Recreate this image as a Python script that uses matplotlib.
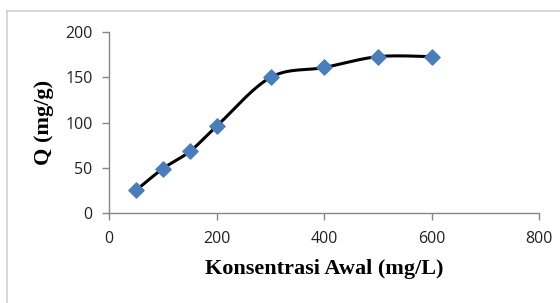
import numpy as np
import matplotlib.pyplot as plt
from matplotlib.lines import Line2D

konsentrasi = [50, 100, 150, 200, 300, 400, 500, 600]
q_values = [25, 49, 68, 96, 150, 161, 173, 173]


def excel_smooth(x, y, n=30):
    # bezier segments like Excel's "smoothed line"
    x = np.asarray(x, float)
    y = np.asarray(y, float)
    px = np.concatenate([[x[0]], x, [x[-1]]])
    py = np.concatenate([[y[0]], y, [y[-1]]])
    xs, ys = [], []
    t = np.linspace(0, 1, n)
    for i in range(1, len(px) - 2):
        p0 = np.array([px[i], py[i]])
        p3 = np.array([px[i + 1], py[i + 1]])
        p1 = p0 + (np.array([px[i + 1], py[i + 1]]) - np.array([px[i - 1], py[i - 1]])) / 6
        p2 = p3 - (np.array([px[i + 2], py[i + 2]]) - np.array([px[i], py[i]])) / 6
        b = ((1 - t) ** 3)[:, None] * p0 + (3 * (1 - t) ** 2 * t)[:, None] * p1 \
            + (3 * (1 - t) * t ** 2)[:, None] * p2 + (t ** 3)[:, None] * p3
        xs.extend(b[:, 0])
        ys.extend(b[:, 1])
    return xs, ys


fig = plt.figure(figsize=(5.6, 3.03), dpi=100)
ax = fig.add_axes([0.1952, 0.298, 0.7678, 0.5954])

sx, sy = excel_smooth(konsentrasi, q_values)
ax.plot(sx, sy, color='black', linewidth=2.2, zorder=2)
ax.scatter(konsentrasi, q_values, marker='D', s=60, color='#4a7ebb', zorder=3)

ax.set_xlim(0, 800)
ax.set_ylim(0, 200)
ax.set_xticks(range(0, 801, 200))
ax.set_yticks(range(0, 201, 50))

grey = '#868686'
for side in ['top', 'right']:
    ax.spines[side].set_visible(False)
for side in ['left', 'bottom']:
    ax.spines[side].set_color(grey)
    ax.spines[side].set_linewidth(1.0)
ax.tick_params(direction='out', length=5, width=1, color=grey, labelsize=11.5,
               labelcolor='#222222')
ax.tick_params(axis='x', pad=8)
ax.tick_params(axis='y', pad=7)
for lab in ax.get_xticklabels() + ax.get_yticklabels():
    lab.set_fontfamily('Open Sans')

ax.set_xlabel('Konsentrasi Awal (mg/L)', fontfamily='Liberation Serif',
              fontweight='bold', fontsize=16, labelpad=9)
ax.set_ylabel('Q (mg/g)', fontfamily='Liberation Serif',
              fontweight='bold', fontsize=16, labelpad=8)

# chart area border (only top and left visible in the crop)
fig.add_artist(Line2D([6.5 / 560, 1], [1 - 10.5 / 303] * 2, color='#d0d0d0', lw=1.2))
fig.add_artist(Line2D([6.5 / 560] * 2, [0, 1 - 10.5 / 303], color='#d0d0d0', lw=1.2))

fig.savefig('out.png', dpi=100)
